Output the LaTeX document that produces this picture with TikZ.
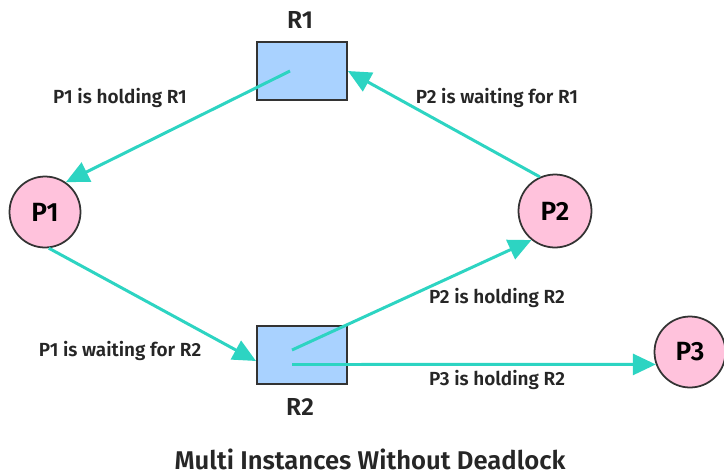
\documentclass[tikz,border=0pt]{standalone}
\usepackage{fontspec}
\setmainfont{Fira Sans}[BoldFont={Fira Sans SemiBold}]
\usepackage{xcolor}
\usepackage{tikz}
\usetikzlibrary{calc,arrows.meta}

\definecolor{edgeteal}{HTML}{2DD4C2}
\definecolor{procpink}{HTML}{FFC2DC}
\definecolor{resblue}{HTML}{A9D2FF}

\tikzset{
    proc/.style={circle,draw=black!80,line width=1pt,fill=procpink,
        minimum size=1.42cm,inner sep=0pt,font=\fontsize{15}{17}\selectfont\bfseries},
    res/.style={rectangle,draw=black!80,line width=1.1pt,fill=resblue,
        minimum width=1.8cm,minimum height=1.15cm,inner sep=0pt},
    flow/.style={edgeteal,line width=1.7pt,-{Triangle[length=0.46cm,width=0.42cm]}},
    lbl/.style={font=\fontsize{10.8}{12}\selectfont\bfseries,text=black!85}
}

\begin{document}
\begin{tikzpicture}[x=0.02cm,y=-0.02cm]
        \useasboundingbox (0,0) rectangle (724,474);

        % resources
        \node[res] (r1) at (302,71) {};
        \node[res] (r2) at (302,355) {};
        \node[lbl,font=\fontsize{14}{16}\selectfont\bfseries] (r1lbl) at (300,20) {R1};
        \node[lbl,font=\fontsize{14}{16}\selectfont\bfseries] (r2lbl) at (300,407) {R2};

        % processes
        \node[proc] (p1) at (45,212) {P1};
        \node[proc,minimum size=1.46cm] (p2) at (555,211) {P2};
        \node[proc] (p3) at (690,352) {P3};

        % edges
        \draw[flow] ([xshift=-0.24cm]r1.center) -- (p1.55);
        \draw[flow] (p2.114) -- (r1.east);
        \draw[flow] (p1.-84) -- ([yshift=-0.12cm]r2.west);
        \draw[flow] ([xshift=-0.2cm,yshift=0.1cm]r2.center) -- (p2.231);
        \draw[flow] ([xshift=-0.2cm,yshift=-0.19cm]r2.center) -- (p3.200);

        % edge labels
        \node[lbl] (l1) at (120,98) {P1 is holding R1};
        \node[lbl] (l2) at (497,98) {P2 is waiting for R1};
        \node[lbl] (l3) at (120,351) {P1 is waiting for R2};
        \node[lbl] (l4) at (497,298) {P2 is holding R2};
        \node[lbl] (l5) at (497,380) {P3 is holding R2};

        % caption
        \node[lbl,font=\fontsize{14.6}{16}\selectfont\bfseries] (title) at (370,459) {Multi Instances Without Deadlock};
    \end{tikzpicture}
\end{document}
